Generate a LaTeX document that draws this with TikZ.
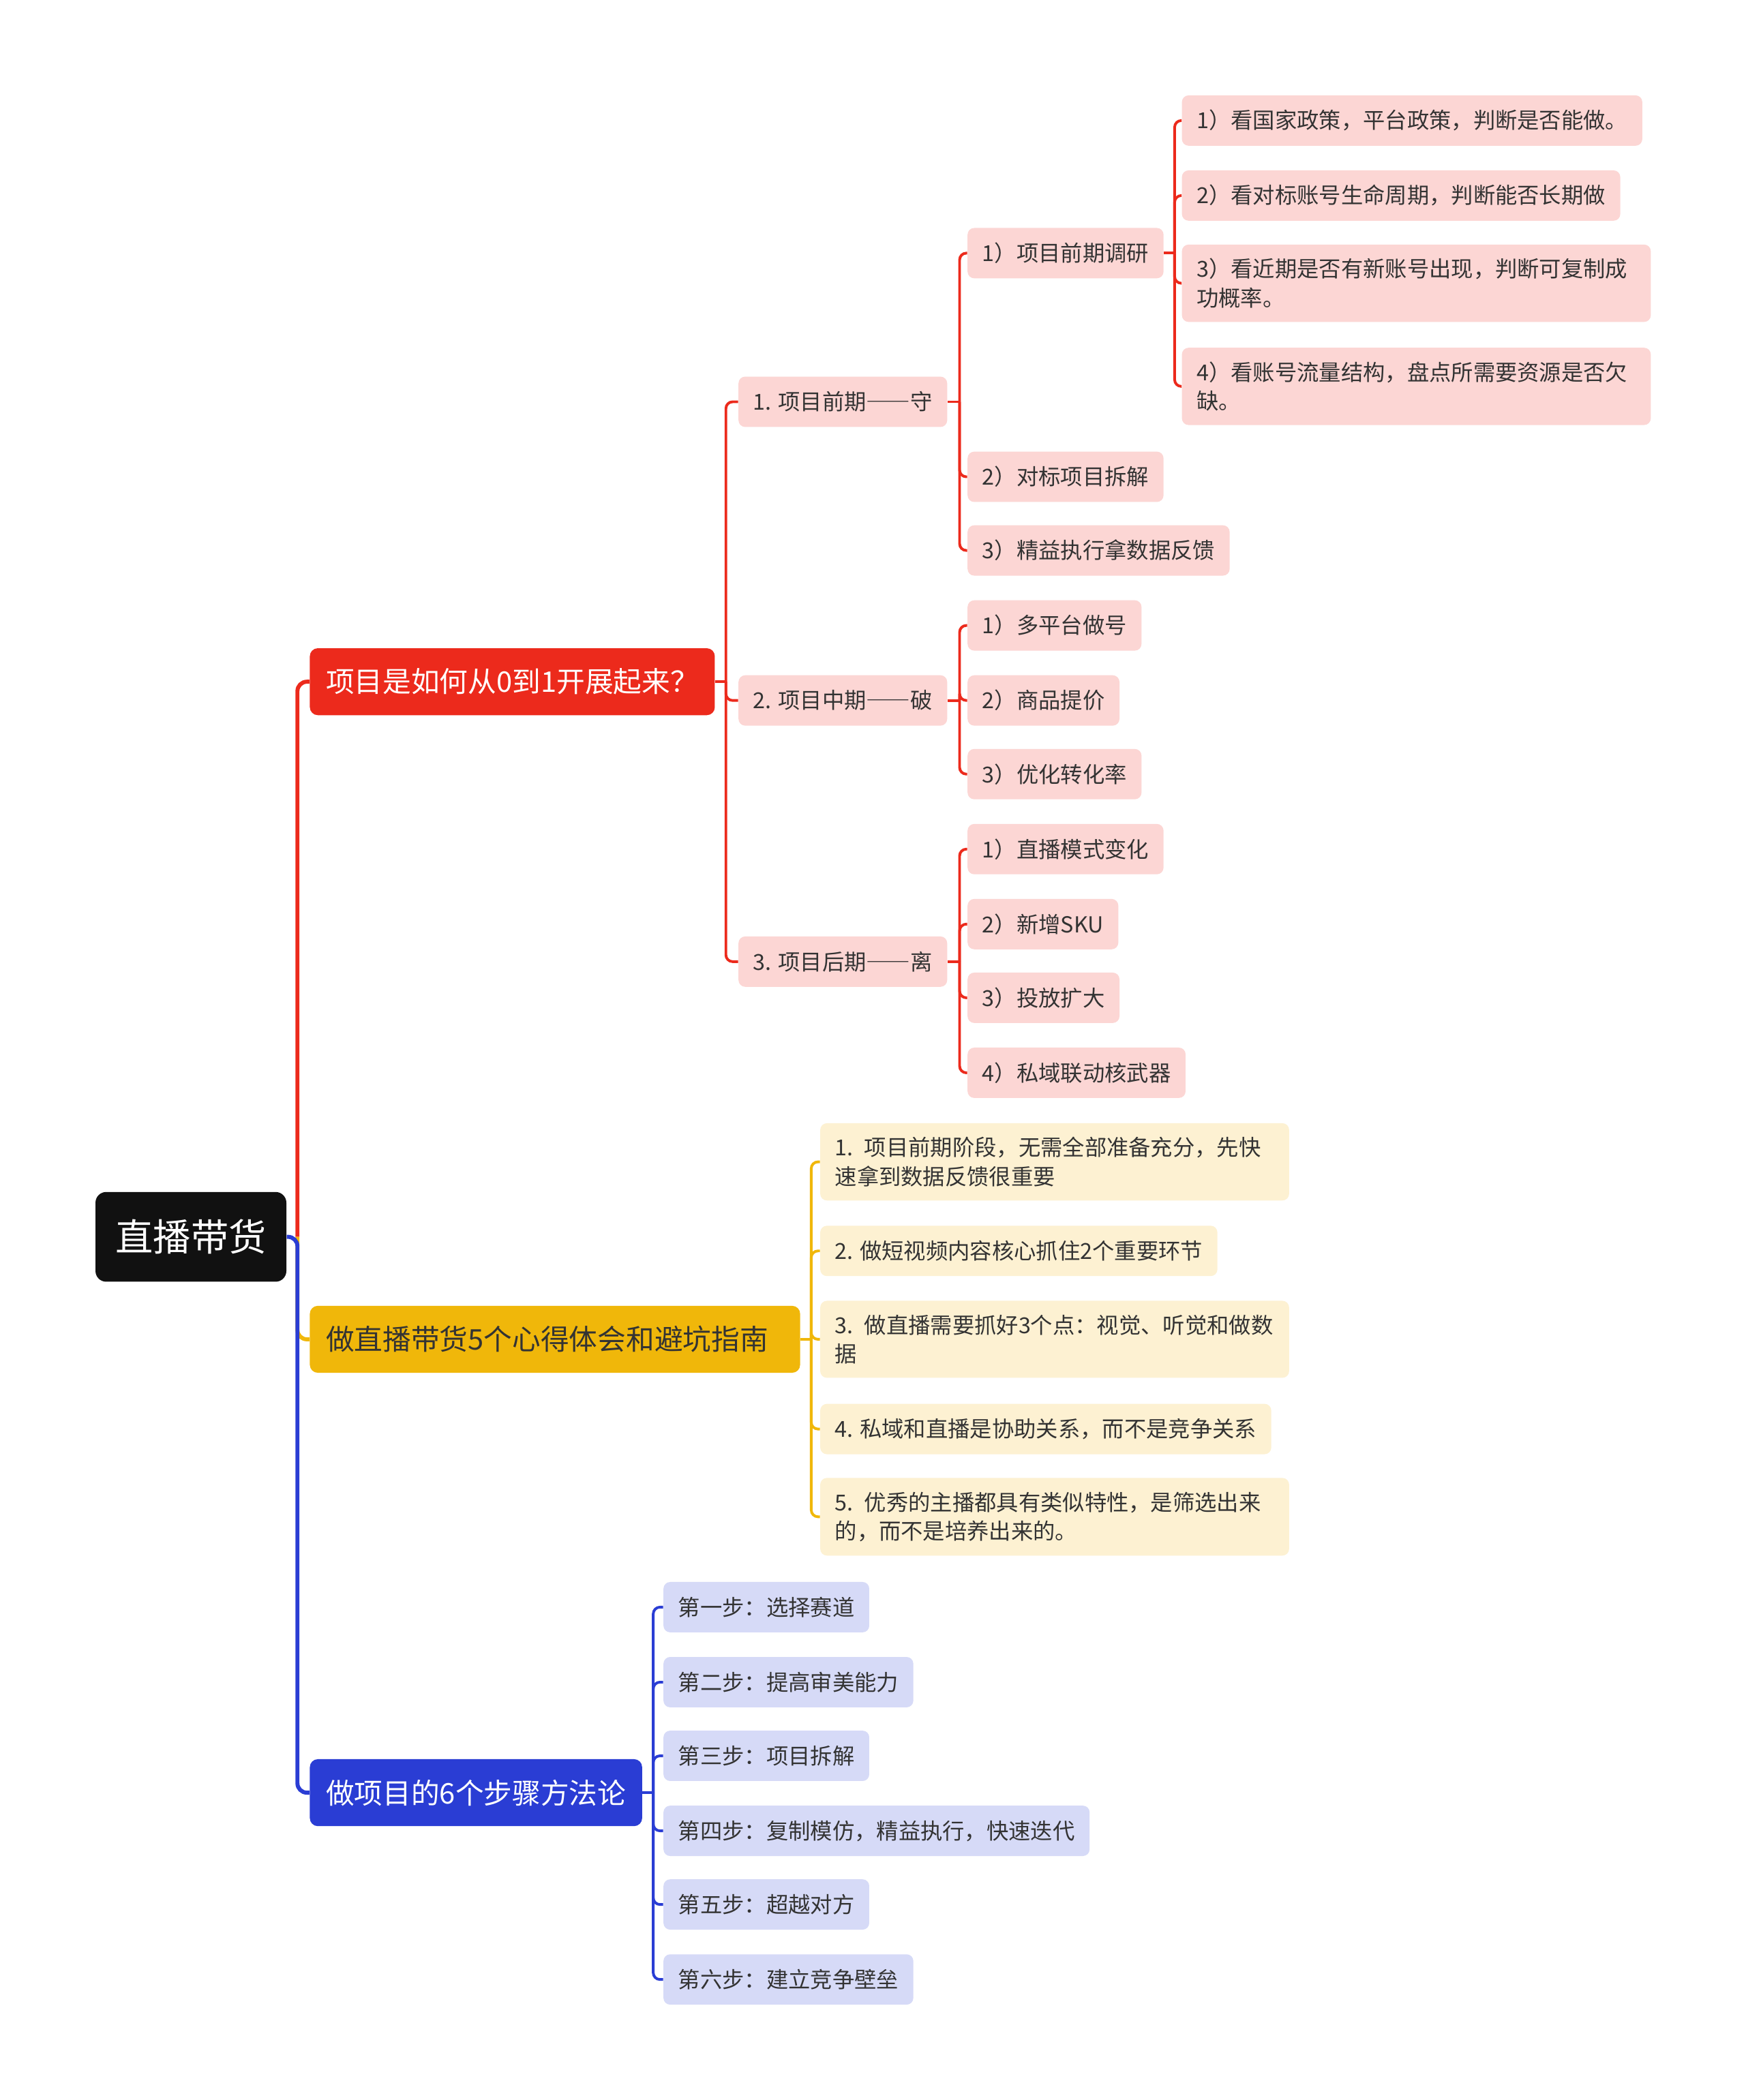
\documentclass[tikz,border=0pt]{standalone}
\usepackage{fontspec}
\setmainfont{Noto Sans CJK SC}
\usepackage{xcolor}
\usepackage{tikz}
\usetikzlibrary{positioning}

\definecolor{rootfill}{HTML}{111111}
\definecolor{redmain}{HTML}{EC2A1C}
\definecolor{redsoft}{HTML}{FCD6D4}
\definecolor{goldmain}{HTML}{F0B70A}
\definecolor{goldsoft}{HTML}{FDF1D2}
\definecolor{bluemain}{HTML}{2A3DD4}
\definecolor{bluesoft}{HTML}{D6DAF7}
\definecolor{ink}{HTML}{333333}

\newcommand{\longdash}{{\addfontfeature{CharacterWidth=Full}——}}

\begin{document}
\begin{tikzpicture}[
  x=0.25mm, y=-0.25mm,
  box/.style={rectangle, rounded corners=1.25mm, anchor=west, align=left, inner xsep=2.75mm, inner ysep=2.6mm, minimum height=9.4mm, text=ink, font=\fontsize{11.7}{15.3}\selectfont},
  wide/.style={text width=82mm},
  redleaf/.style={box, fill=redsoft},
  goldleaf/.style={box, fill=goldsoft},
  blueleaf/.style={box, fill=bluesoft},
  topic/.style={rectangle, rounded corners=1.5mm, anchor=west, align=left, inner xsep=3mm, minimum height=12.5mm, font=\fontsize{15.1}{18}\selectfont},
  hub/.style={rectangle, rounded corners=2mm, anchor=west, inner xsep=3.75mm, minimum height=16.75mm, fill=rootfill, text=white, font=\fontsize{20}{24}\selectfont},
  trunk/.style={line width=0.75mm, rounded corners=1.75mm},
  link/.style={line width=0.5mm, rounded corners=1.25mm},
  redlink/.style={link, draw=redmain},
  goldlink/.style={link, draw=goldmain},
  bluelink/.style={link, draw=bluemain}
]
\fill[white] (0,0) rectangle (1303,1568);
\useasboundingbox (0,0) rectangle (1303,1568);

\node[hub] (root) at (71,923.5) {直播带货};

\node[topic, fill=redmain, text=white] (proj) at (231,509) {项目是如何从0到1开展起来？};
\node[topic, fill=goldmain, text=ink, text width=85.5mm] (tips) at (231,1000) {做直播带货5个心得体会和避坑指南};
\node[topic, fill=bluemain, text=white] (steps) at (231,1338.5) {做项目的6个步骤方法论};

\node[redleaf] (early) at (551,300) {1. 项目前期\longdash 守};
\node[redleaf] (mid) at (551,523) {2. 项目中期\longdash 破};
\node[redleaf] (late) at (551,718) {3. 项目后期\longdash 离};

\node[redleaf] (early1) at (722,189) {1）项目前期调研};
\node[redleaf] (early2) at (722,356) {2）对标项目拆解};
\node[redleaf] (early3) at (722,411) {3）精益执行拿数据反馈};

\node[redleaf] (check1) at (882,90) {1）看国家政策，平台政策，判断是否能做。};
\node[redleaf] (check2) at (882,146) {2）看对标账号生命周期，判断能否长期做};
\node[redleaf, wide] (check3) at (882,211.5) {3）看近期是否有新账号出现，判断可复制成\\功概率。};
\node[redleaf, wide] (check4) at (882,288.5) {4）看账号流量结构，盘点所需要资源是否欠\\缺。};

\node[redleaf] (mid1) at (722,467) {1）多平台做号};
\node[redleaf] (mid2) at (722,523) {2）商品提价};
\node[redleaf] (mid3) at (722,578) {3）优化转化率};

\node[redleaf] (late1) at (722,634) {1）直播模式变化};
\node[redleaf] (late2) at (722,690) {2）新增SKU};
\node[redleaf] (late3) at (722,745) {3）投放扩大};
\node[redleaf] (late4) at (722,801) {4）私域联动核武器};

\node[goldleaf, wide] (tip1) at (612,867.5) {1. 项目前期阶段，无需全部准备充分，先快\\速拿到数据反馈很重要};
\node[goldleaf] (tip2) at (612,934) {2. 做短视频内容核心抓住2个重要环节};
\node[goldleaf, wide] (tip3) at (612,1000) {3. 做直播需要抓好3个点：视觉、听觉和做数\\据};
\node[goldleaf] (tip4) at (612,1067) {4. 私域和直播是协助关系，而不是竞争关系};
\node[goldleaf, wide] (tip5) at (612,1132.5) {5. 优秀的主播都具有类似特性，是筛选出来\\的，而不是培养出来的。};

\node[blueleaf] (step1) at (495,1200) {第一步：选择赛道};
\node[blueleaf] (step2) at (495,1256) {第二步：提高审美能力};
\node[blueleaf] (step3) at (495,1311) {第三步：项目拆解};
\node[blueleaf] (step4) at (495,1367) {第四步：复制模仿，精益执行，快速迭代};
\node[blueleaf] (step5) at (495,1422) {第五步：超越对方};
\node[blueleaf] (step6) at (495,1478) {第六步：建立竞争壁垒};

% main branches
\path (root.east) ++(8,0) coordinate (jroot);
\draw[trunk, draw=redmain] (jroot) |- (proj.west);
\draw[trunk, draw=goldmain] (jroot) |- (tips.west);
\draw[trunk, draw=bluemain] (root.east) -- (jroot) |- (steps.west);

% sub branches
\path (proj.east) ++(8,0) coordinate (jproj);
\draw[redlink] (proj.east) -- (jproj);
\foreach \n in {early,mid,late}
  \draw[redlink] (jproj) |- (\n.west);

\path (early.east) ++(9,0) coordinate (jearly);
\draw[redlink] (early.east) -- (jearly);
\foreach \n in {early1,early2,early3}
  \draw[redlink] (jearly) |- (\n.west);

\path (early1.east) ++(8,0) coordinate (jcheck);
\draw[redlink] (early1.east) -- (jcheck);
\foreach \n in {check1,check2,check3,check4}
  \draw[redlink] (jcheck) |- (\n.west);

\path (mid.east) ++(9,0) coordinate (jmid);
\draw[redlink] (mid.east) -- (jmid);
\foreach \n in {mid1,mid2,mid3}
  \draw[redlink] (jmid) |- (\n.west);

\path (late.east) ++(9,0) coordinate (jlate);
\draw[redlink] (late.east) -- (jlate);
\foreach \n in {late1,late2,late3,late4}
  \draw[redlink] (jlate) |- (\n.west);

\path (tips.east) ++(8,0) coordinate (jtips);
\draw[goldlink] (tips.east) -- (jtips);
\foreach \n in {tip1,tip2,tip3,tip4,tip5}
  \draw[goldlink] (jtips) |- (\n.west);

\path (steps.east) ++(8,0) coordinate (jsteps);
\draw[bluelink] (steps.east) -- (jsteps);
\foreach \n in {step1,step2,step3,step4,step5,step6}
  \draw[bluelink] (jsteps) |- (\n.west);
\end{tikzpicture}
\end{document}
